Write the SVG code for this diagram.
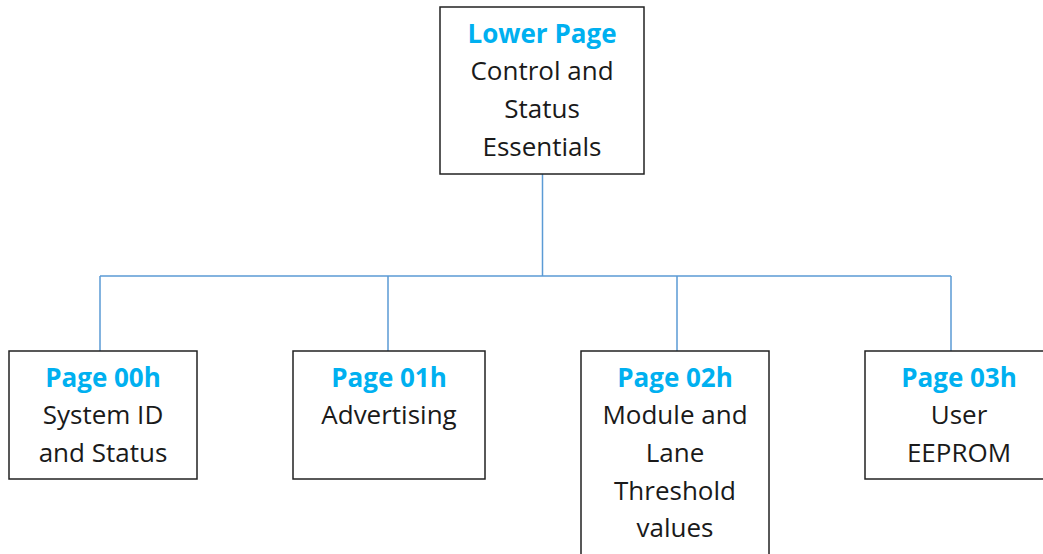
<svg xmlns="http://www.w3.org/2000/svg" width="1043" height="554" viewBox="0 0 1043 554">
<style>
.box{fill:#fff;stroke:#222;stroke-width:1.5}
.t{font-family:"Open Sans","Liberation Sans",sans-serif;font-size:26px;text-anchor:middle;fill:#1a1a1a}
.h{font-weight:bold;fill:#00B0F0;font-size:26px}
.c{fill:none;stroke:#5B9BD5;stroke-width:1.5}
</style>
<rect width="1043" height="554" fill="#fff"/>
<g id="connectors">
<path class="c" d="M542.5 174V276M100 276H951M100 276V351M388 276V351M677 276V351M951 276V351"/>
</g>
<g id="lower">
<rect class="box" x="440" y="7" width="204" height="167"/>
<text class="t h" x="542" y="43">Lower Page</text>
<text class="t" x="542" y="80">Control and</text>
<text class="t" x="542" y="118">Status</text>
<text class="t" x="542" y="156">Essentials</text>
</g>
<g id="p00">
<rect class="box" x="9" y="351" width="188" height="128"/>
<text class="t h" x="103" y="387">Page 00h</text>
<text class="t" x="103" y="424">System ID</text>
<text class="t" x="103" y="462">and Status</text>
</g>
<g id="p01">
<rect class="box" x="293" y="351" width="192" height="128"/>
<text class="t h" x="389" y="387">Page 01h</text>
<text class="t" x="389" y="424">Advertising</text>
</g>
<g id="p02">
<rect class="box" x="581" y="351" width="188" height="210"/>
<text class="t h" x="675" y="387">Page 02h</text>
<text class="t" x="675" y="424">Module and</text>
<text class="t" x="675" y="462">Lane</text>
<text class="t" x="675" y="500">Threshold</text>
<text class="t" x="675" y="537">values</text>
</g>
<g id="p03">
<rect class="box" x="865" y="351" width="190" height="128"/>
<text class="t h" x="959" y="387">Page 03h</text>
<text class="t" x="959" y="424">User</text>
<text class="t" x="959" y="462">EEPROM</text>
</g>
</svg>
